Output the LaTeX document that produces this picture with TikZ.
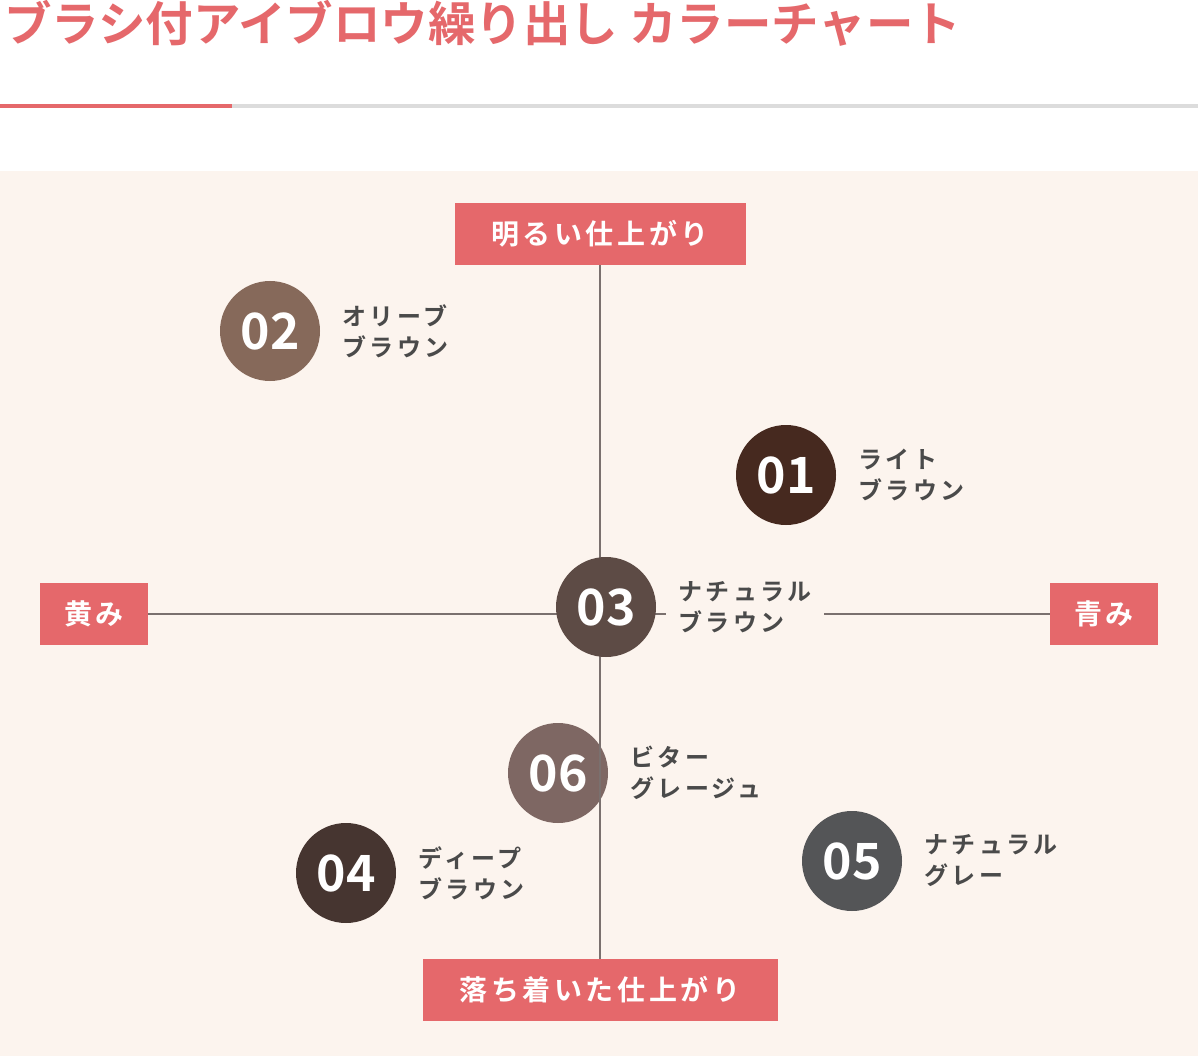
\documentclass[tikz,border=0pt]{standalone}
\usepackage{fontspec}
\usetikzlibrary{positioning}
\setmainfont{Noto Sans CJK JP}[BoldFont={* Bold}]
\newfontfamily\jplabel{Noto Sans CJK JP Bold}[LetterSpace=14]
\newfontfamily\jpbox{Noto Sans CJK JP Bold}[LetterSpace=13]
\definecolor{accent}{HTML}{E5686B}
\definecolor{cream}{HTML}{FCF4EE}
\definecolor{rule}{HTML}{DCDCDC}
\definecolor{axisgray}{HTML}{7A706E}
\definecolor{ink}{HTML}{4A4A4A}
\definecolor{c01}{HTML}{46291F}
\definecolor{c02}{HTML}{86695A}
\definecolor{c03}{HTML}{5D4B45}
\definecolor{c04}{HTML}{463530}
\definecolor{c05}{HTML}{545557}
\definecolor{c06}{HTML}{7E6763}
\begin{document}
\begin{tikzpicture}[x=1pt,y=-1pt,
  box/.style = {fill=accent, text=white, minimum height=62pt, inner sep=0pt, font=\jpbox\fontsize{28}{28}\selectfont},
  dot/.style = {circle, minimum size=100pt, inner sep=0pt, text=white, font=\bfseries\fontsize{50}{50}\selectfont},
  colname/.style = {fill=cream, text=ink, align=left, inner xsep=12pt, inner ysep=2pt, font=\jplabel\fontsize{24}{31}\selectfont},
  axis/.style = {draw=axisgray, line width=2pt}]
  \useasboundingbox (0,0) rectangle (1198,1056);
  \fill[white] (0,0) rectangle (1198,1056);

  \node[anchor=north west, inner sep=0pt, text=accent, font=\bfseries\fontsize{47.5}{47.5}\selectfont] (title) at (4,0) {ブラシ付アイブロウ繰り出し カラーチャート};
  \draw[rule, line width=4pt] (0,106) -- (1198,106);
  \draw[accent, line width=4pt] (0,106) -- (232,106);
  \fill[cream] (0,171) rectangle (1198,1056);

  \node[box, minimum width=291pt] (top) at (600,234) {明るい仕上がり};
  \node[box, minimum width=355pt] (bottom) at (600,990) {落ち着いた仕上がり};
  \node[box, minimum width=108pt] (left) at (94,614) {黄み};
  \node[box, minimum width=108pt] (right) at (1104,614) {青み};

  \node[dot, fill=c06] (06) at (558,773) {06};
  \node[colname, right=10pt of 06] (n06) {ビター\\グレージュ};

  \draw[axis] (top) -- (bottom);
  \draw[axis] (left) -- (right);

  \node[dot, fill=c02] (02) at (270,331) {02};
  \node[colname, right=10pt of 02] (n02) {オリーブ\\ブラウン};
  \node[dot, fill=c01] (01) at (786,475) {01};
  \node[colname, right=10pt of 01] (n01) {ライト\\ブラウン};
  \node[dot, fill=c03] (03) at (606,607) {03};
  \node[colname, right=10pt of 03] (n03) {ナチュラル\\ブラウン};
  \node[dot, fill=c04] (04) at (346,873) {04};
  \node[colname, right=10pt of 04] (n04) {ディープ\\ブラウン};
  \node[dot, fill=c05] (05) at (852,861) {05};
  \node[colname, right=10pt of 05] (n05) {ナチュラル\\グレー};
\end{tikzpicture}
\end{document}
